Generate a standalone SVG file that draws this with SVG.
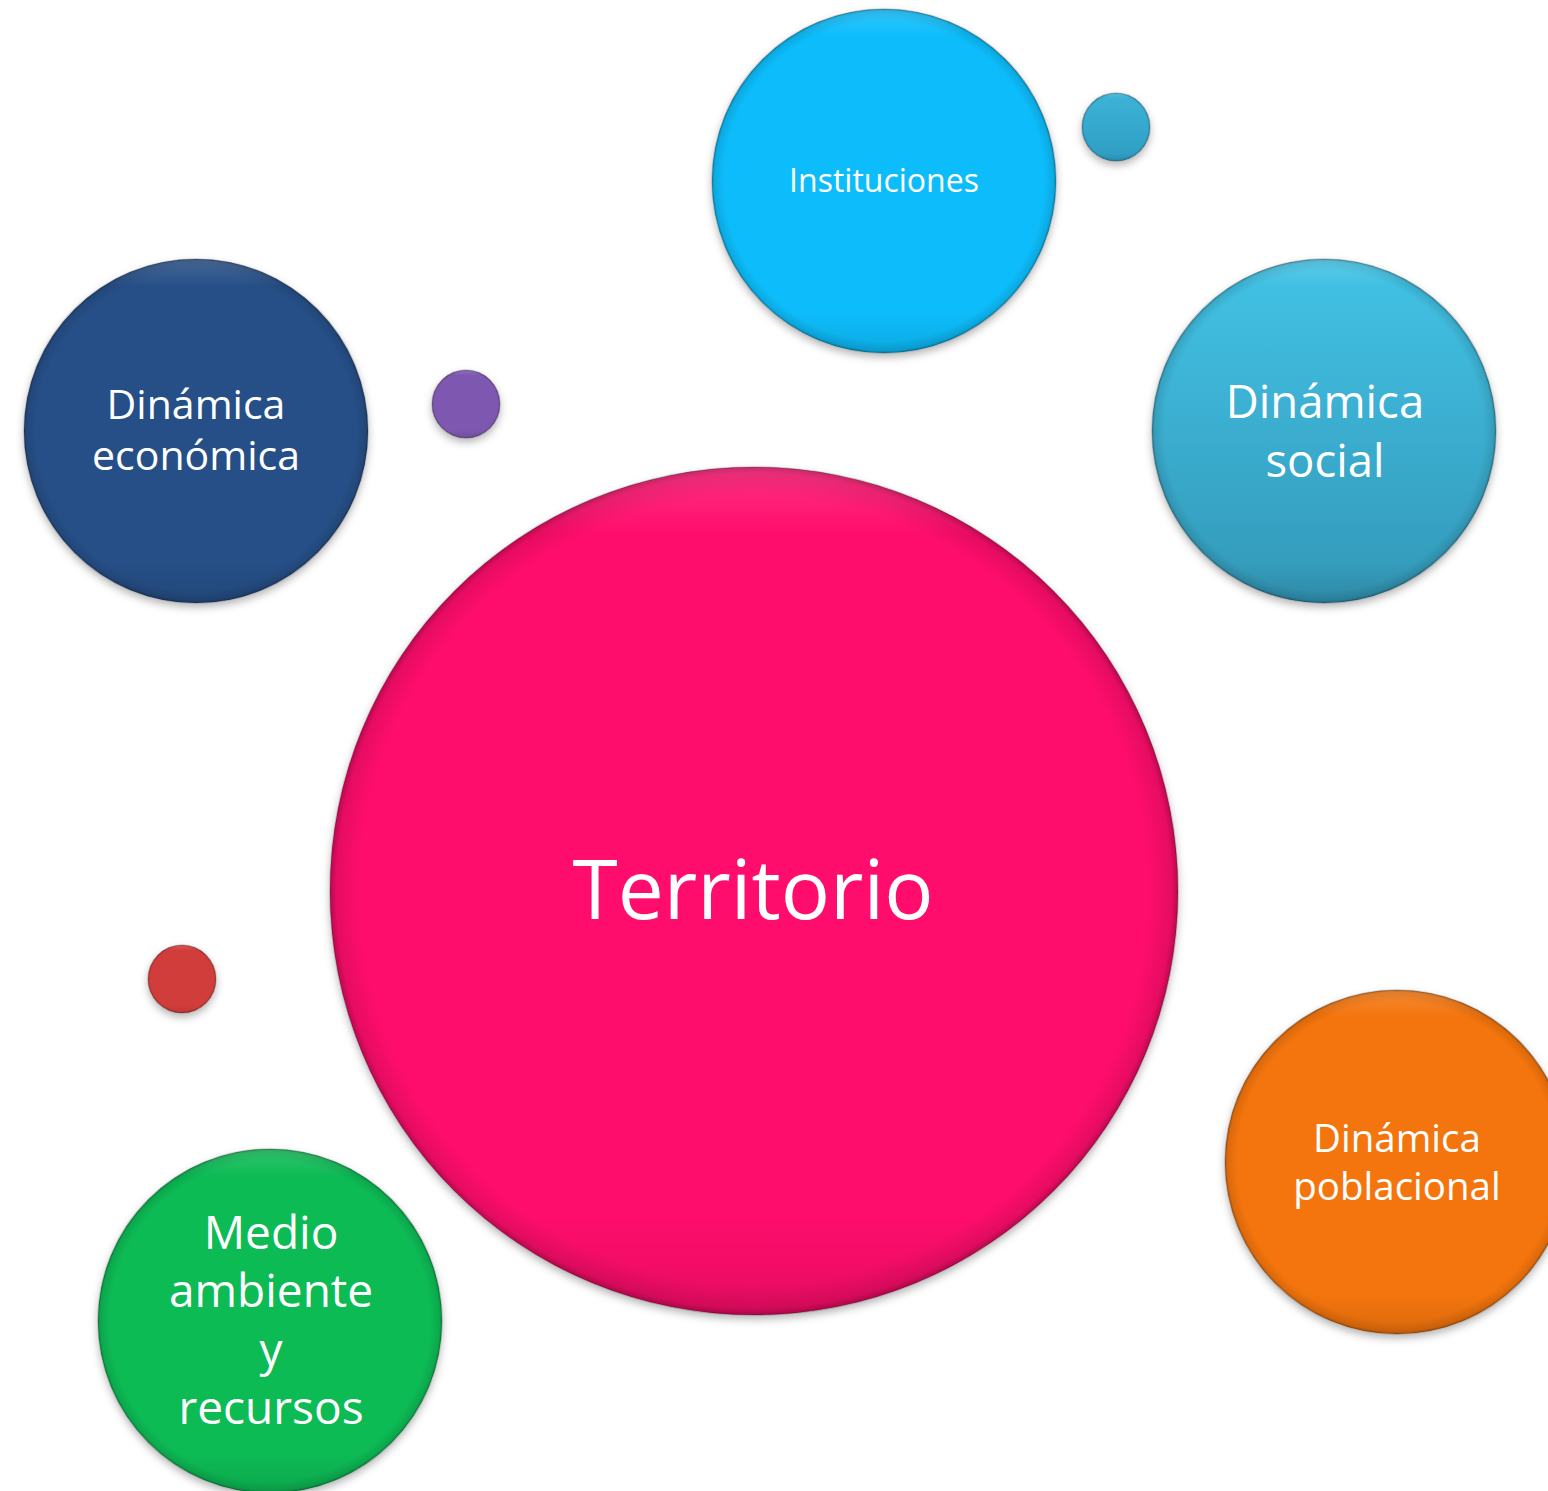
<svg xmlns="http://www.w3.org/2000/svg" width="1548" height="1491" viewBox="0 0 1548 1491">
  <defs>
    <filter id="shadow" x="-20%" y="-20%" width="140%" height="140%">
      <feDropShadow dx="0" dy="4" stdDeviation="4" flood-color="#000" flood-opacity="0.3"/>
    </filter>
    <radialGradient id="rim" cx="50%" cy="50%" r="50%">
      <stop offset="0.93" stop-color="#000" stop-opacity="0"/>
      <stop offset="0.985" stop-color="#000" stop-opacity="0.1"/>
      <stop offset="1" stop-color="#000" stop-opacity="0.28"/>
    </radialGradient>
    <linearGradient id="hl" x1="0" y1="0" x2="0" y2="1">
      <stop offset="0" stop-color="#fff" stop-opacity="0.15"/>
      <stop offset="0.08" stop-color="#fff" stop-opacity="0"/>
      <stop offset="0.88" stop-color="#000" stop-opacity="0"/>
      <stop offset="1" stop-color="#000" stop-opacity="0.1"/>
    </linearGradient>
    <linearGradient id="socialGrad" x1="0" y1="0" x2="0" y2="1">
      <stop offset="0" stop-color="#42C3E6"/>
      <stop offset="1" stop-color="#3398B8"/>
    </linearGradient>
    <linearGradient id="tealGrad" x1="0" y1="0" x2="0" y2="1">
      <stop offset="0" stop-color="#3DB3D8"/>
      <stop offset="1" stop-color="#2E9DC2"/>
    </linearGradient>
  </defs>
  <style>
    .lbl { font-family: "Open Sans", "Noto Sans", sans-serif; fill: #ffffff; text-anchor: middle; }
    .edge { stroke: #000; stroke-opacity: 0.18; stroke-width: 1.5; }
  </style>
  <rect width="1548" height="1491" fill="#ffffff"/>
  <g id="connectors"></g>

  <g id="node-territorio">
    <circle cx="754" cy="891" r="424" fill="#FF0A6C" filter="url(#shadow)"/>
    <circle cx="754" cy="891" r="424" fill="url(#rim)"/>
    <circle cx="754" cy="891" r="424" fill="url(#hl)" class="edge"/>
    <text class="lbl" x="753" y="919" font-size="82">Territorio</text>
  </g>

  <g id="node-instituciones">
    <circle cx="884" cy="181" r="172" fill="#08BDFB" filter="url(#shadow)"/>
    <circle cx="884" cy="181" r="172" fill="url(#rim)"/>
    <circle cx="884" cy="181" r="172" fill="url(#hl)" class="edge"/>
    <text class="lbl" x="884" y="192" font-size="32">Instituciones</text>
  </g>

  <g id="node-dot-teal">
    <circle cx="1116" cy="127" r="34" fill="url(#tealGrad)" filter="url(#shadow)"/>
    <circle cx="1116" cy="127" r="34" fill="url(#rim)"/>
    <circle cx="1116" cy="127" r="34" fill="url(#hl)" class="edge"/>
  </g>

  <g id="node-social">
    <circle cx="1324" cy="431" r="172" fill="url(#socialGrad)" filter="url(#shadow)"/>
    <circle cx="1324" cy="431" r="172" fill="url(#rim)"/>
    <circle cx="1324" cy="431" r="172" fill="url(#hl)" class="edge"/>
    <text class="lbl" x="1325" y="418" font-size="45.5">Dinámica</text>
    <text class="lbl" x="1325" y="477" font-size="45.5">social</text>
  </g>

  <g id="node-economica">
    <circle cx="196" cy="431" r="172" fill="#284F87" filter="url(#shadow)"/>
    <circle cx="196" cy="431" r="172" fill="url(#rim)"/>
    <circle cx="196" cy="431" r="172" fill="url(#hl)" class="edge"/>
    <text class="lbl" x="196" y="419" font-size="41">Dinámica</text>
    <text class="lbl" x="196" y="470" font-size="41">económica</text>
  </g>

  <g id="node-dot-purple">
    <circle cx="466" cy="404" r="34" fill="#7E58B0" filter="url(#shadow)"/>
    <circle cx="466" cy="404" r="34" fill="url(#rim)"/>
    <circle cx="466" cy="404" r="34" fill="url(#hl)" class="edge"/>
  </g>

  <g id="node-dot-red">
    <circle cx="182" cy="979" r="34" fill="#D13C3B" filter="url(#shadow)"/>
    <circle cx="182" cy="979" r="34" fill="url(#rim)"/>
    <circle cx="182" cy="979" r="34" fill="url(#hl)" class="edge"/>
  </g>

  <g id="node-poblacional">
    <circle cx="1397" cy="1162" r="172" fill="#F47511" filter="url(#shadow)"/>
    <circle cx="1397" cy="1162" r="172" fill="url(#rim)"/>
    <circle cx="1397" cy="1162" r="172" fill="url(#hl)" class="edge"/>
    <text class="lbl" x="1397" y="1152" font-size="38.5">Dinámica</text>
    <text class="lbl" x="1397" y="1200" font-size="38.5">poblacional</text>
  </g>

  <g id="node-medio">
    <circle cx="270" cy="1321" r="172" fill="#07BB55" filter="url(#shadow)"/>
    <circle cx="270" cy="1321" r="172" fill="url(#rim)"/>
    <circle cx="270" cy="1321" r="172" fill="url(#hl)" class="edge"/>
    <text class="lbl" x="271" y="1249" font-size="46">Medio</text>
    <text class="lbl" x="271" y="1307" font-size="46">ambiente</text>
    <text class="lbl" x="271" y="1366" font-size="46">y</text>
    <text class="lbl" x="271" y="1424" font-size="46">recursos</text>
  </g>
</svg>
